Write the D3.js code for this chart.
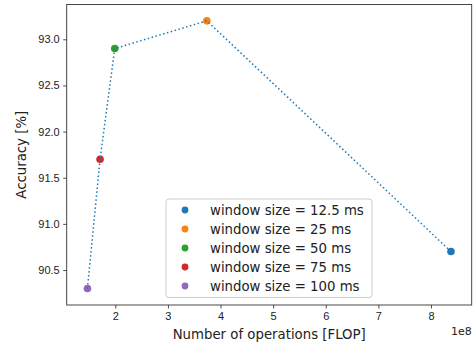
<!DOCTYPE html>
<html>
<head>
<meta charset="utf-8">
<script src="https://cdn.jsdelivr.net/npm/d3@7"></script>
<style>
  html, body { margin: 0; padding: 0; background: #fff; }
  svg { display: block; font-family: "DejaVu Sans", sans-serif; }
</style>
</head>
<body>
<svg id="chart" width="473" height="345"></svg>
<script>
// Window sizes, compute cost (FLOP) and accuracy for each configuration
const windowSizes = ["12.5", "25", "50", "75", "100"];
const operations = [8.38e8, 3.74e8, 1.99e8, 1.71e8, 1.47e8];
const accuracy = [90.7, 93.2, 92.9, 91.7, 90.3];
const colors = ["#1f77b4", "#ff7f0e", "#2ca02c", "#d62728", "#9467bd"];
const xTicks = [2, 3, 4, 5, 6, 7, 8];
const yTicks = [90.5, 91.0, 91.5, 92.0, 92.5, 93.0];

const svg = d3.select("#chart");
const plotLeft = 66.7, plotRight = 471.7, plotTop = 4.5, plotBottom = 305;

const x = d3.scaleLinear().domain([1.076e8, 8.774e8]).range([plotLeft, plotRight]);
const y = d3.scaleLinear().domain([90.121, 93.377]).range([plotBottom, plotTop]);

const points = windowSizes.map((w, i) => ({ w, ops: operations[i], acc: accuracy[i], color: colors[i] }));

// Axes
const xAxis = d3.axisBottom(x).tickValues(xTicks.map(t => t * 1e8))
  .tickFormat(d => String(Math.round(d / 1e8))).tickSize(3.5).tickPadding(3.5);
const yAxis = d3.axisLeft(y).tickValues(yTicks)
  .tickFormat(d3.format(".1f")).tickSize(3.5).tickPadding(3.5);

const gx = svg.append("g").attr("transform", `translate(0,${plotBottom})`).call(xAxis);
const gy = svg.append("g").attr("transform", `translate(${plotLeft},0)`).call(yAxis);
[gx, gy].forEach(g => {
  g.select(".domain").remove();
  g.selectAll(".tick line").attr("stroke", "#222").attr("stroke-width", 0.8);
  g.selectAll(".tick text").attr("fill", "#222").style("font-size", "11px");
});

// Frame
svg.append("rect")
  .attr("x", plotLeft).attr("y", plotTop)
  .attr("width", plotRight - plotLeft).attr("height", plotBottom - plotTop)
  .attr("fill", "none").attr("stroke", "#333").attr("stroke-width", 0.9);

// Markers
svg.append("g").selectAll("circle").data(points).join("circle")
  .attr("cx", d => x(d.ops)).attr("cy", d => y(d.acc))
  .attr("r", 3.8).attr("fill", d => d.color);

// Dotted connecting line, ordered by cost
const ordered = points.slice().sort((a, b) => a.ops - b.ops);
svg.append("path")
  .datum(ordered)
  .attr("d", d3.line().x(d => x(d.ops)).y(d => y(d.acc)))
  .attr("fill", "none").attr("stroke", "#1f77b4")
  .attr("stroke-width", 1.5).attr("stroke-dasharray", "1.5,2.5");

// Axis labels
svg.append("text")
  .attr("x", (plotLeft + plotRight) / 2).attr("y", 339)
  .attr("text-anchor", "middle").attr("fill", "#222")
  .style("font-size", "13.3px").text("Number of operations [FLOP]");
svg.append("text")
  .attr("transform", `translate(26,${(plotTop + plotBottom) / 2}) rotate(-90)`)
  .attr("text-anchor", "middle").attr("fill", "#222")
  .style("font-size", "13.3px").text("Accuracy [%]");
svg.append("text")
  .attr("x", plotRight).attr("y", 335)
  .attr("text-anchor", "end").attr("fill", "#222")
  .style("font-size", "11px").text("1e8");

// Legend
const lg = svg.append("g");
lg.append("rect")
  .attr("x", 166).attr("y", 199).attr("width", 206).attr("height", 98.5)
  .attr("rx", 3).attr("fill", "#fff").attr("fill-opacity", 0.8)
  .attr("stroke", "#ccc").attr("stroke-width", 1);
const rows = lg.selectAll("g.row").data(points).join("g")
  .attr("class", "row")
  .attr("transform", (d, i) => `translate(0,${210 + i * 19})`);
rows.append("circle").attr("cx", 185).attr("cy", 0).attr("r", 3.4).attr("fill", d => d.color);
rows.append("text").attr("x", 210).attr("y", 0).attr("dy", "0.35em")
  .attr("fill", "#222").style("font-size", "13.3px")
  .text(d => `window size = ${d.w} ms`);
</script>
</body>
</html>
